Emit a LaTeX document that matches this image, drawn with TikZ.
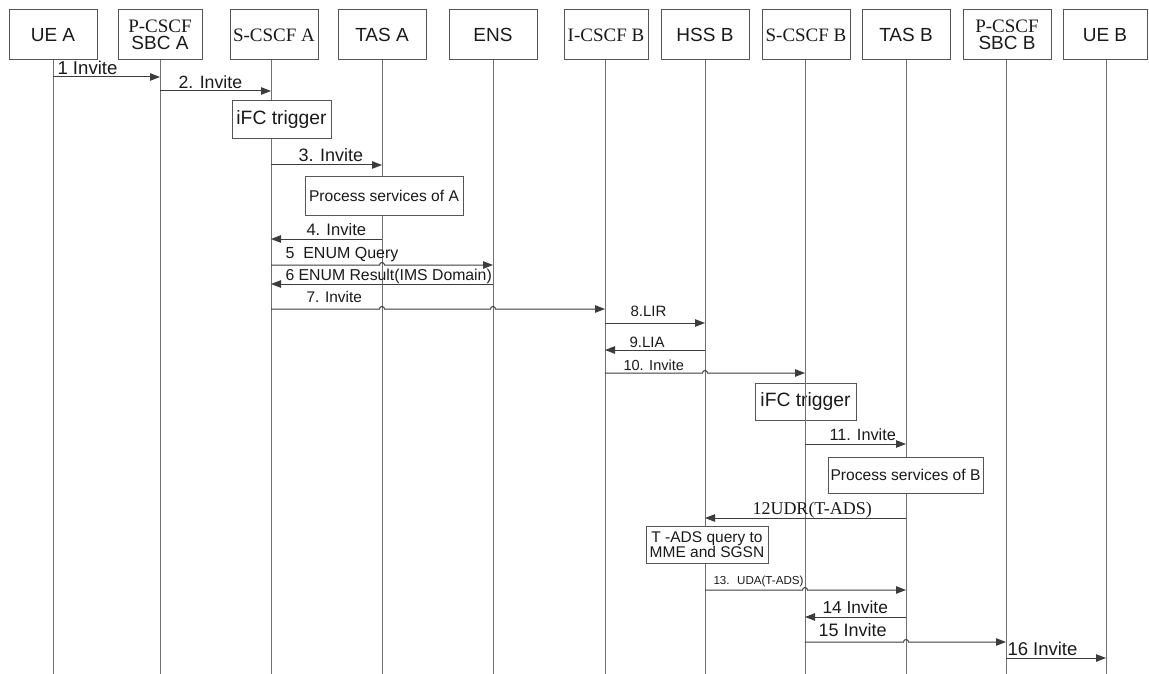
\documentclass[tikz,border=0pt]{standalone}
\usepackage{fontspec}
\setmainfont{Liberation Sans}
\newfontfamily\tmsfont{Liberation Serif}
\newfontfamily\lblfont{Liberation Sans}
\usetikzlibrary{arrows.meta}

\definecolor{boxgray}{HTML}{555555}
\definecolor{linegray}{HTML}{707070}
\definecolor{msggray}{HTML}{3C3C3C}
\definecolor{txtgray}{HTML}{1A1A1A}

\tikzset{
  entity/.style={draw=boxgray, line width=1pt, minimum width=88pt, minimum height=50pt,
    inner sep=1pt, align=center, text=txtgray, font=\fontsize{19}{19}\selectfont},
  life/.style={draw=linegray, line width=0.9pt},
  note/.style={draw=boxgray, line width=1pt, fill=white, inner sep=0pt, align=center,
    text=txtgray, font=\lblfont\fontsize{#1}{#1}\selectfont},
  note/.default=15.6,
  msg/.style={draw=msggray, line width=1pt, -{Triangle[length=10pt,width=7.5pt]}},
  lbl/.style={anchor=base west, inner sep=0pt, yshift=2.5pt, text=txtgray,
    font=\lblfont\fontsize{#1}{#1}\selectfont},
  lbl/.default=18,
  hop/.style={start angle=180, end angle=360, radius=2.5}
}

\begin{document}
\begin{tikzpicture}[x=1pt, y=-1pt]
\useasboundingbox (0,0) rectangle (1149,674);

% entities
\node[entity] (ueA) at (53,35) {UE A};
\node[entity, minimum width=84pt] (pA) at (160,35) {{\tmsfont P-CSCF}\\[-2pt]SBC A};
\node[entity] (sA) at (274,35) {\tmsfont S-CSCF A};
\node[entity] (tA) at (382,35) {TAS A};
\node[entity] (ens) at (493,35) {ENS};
\node[entity, minimum width=84pt] (iB) at (606,35) {\tmsfont I-CSCF B};
\node[entity] (hB) at (705,35) {HSS B};
\node[entity] (sB) at (806,35) {\tmsfont S-CSCF B};
\node[entity] (tB) at (906,35) {TAS B};
\node[entity] (pB) at (1007,35) {{\tmsfont P-CSCF}\\[-2pt]SBC B};
\node[entity, minimum width=84pt] (ueB) at (1105,35) {UE B};

% lifelines
\foreach \n/\x in {ueA/53, pA/160, sA/271, tA/382, ens/493, iB/605, hB/705, sB/805, tB/906, pB/1006, ueB/1106}
  \draw[life] (\n.south -| \x,0) -- (\x,674) coordinate (\n L);

% message heights
\foreach \n/\y in {1/77, 2/91, 3/165, 4/239, 5/265, 6/284, 7/309, 8/323, 9/350,
                   10/373, 11/444, 12/518, 13/590, 14/617, 15/642, 16/658}
  \coordinate (m\n) at (0,\y);

% boxes on the lifelines
\node[note=19.3, minimum width=99pt, minimum height=38pt] (trigA) at (281.5,120) {iFC trigger};
\node[note, minimum width=158pt, minimum height=38pt] (servA) at (384,196) {Process services of A};
\node[note=19.3, fill=none, minimum width=101pt, minimum height=37pt] (trigB) at (805.5,401.5) {iFC trigger};
\draw[life] (sBL |- trigB.north) -- (sBL |- trigB.south);
\node[note, minimum width=155pt, minimum height=36pt] (servB) at (905.5,475) {Process services of B};
\node[note, minimum width=122pt, minimum height=37pt, font=\lblfont\fontsize{15.5}{14}\selectfont]
  (tads) at (707,544.5) {T -ADS query to\\MME and SGSN};

% messages
\draw[msg] (ueAL |- m1) -- (pAL |- m1) node[lbl=18.6, pos=0, xshift=4pt] {1 Invite};
\draw[msg] (pAL |- m2) -- (sAL |- m2) node[lbl=17.7, pos=0, xshift=18pt] {2. Invite};
\draw[msg] (sAL |- m3) -- (tAL |- m3) node[lbl, pos=0, xshift=27pt, yshift=1.5pt] {3. Invite};
\draw[msg] (tAL |- m4) -- (sAL |- m4) node[lbl=16.6, pos=1, xshift=35pt, yshift=1.5pt] {4. Invite};
\draw[msg] (sAL |- m5) -- node[lbl=16, pos=0, xshift=14pt, yshift=4pt] {5~~ENUM Query}
  ([xshift=-2.5pt]tAL |- m5) arc[hop] -- (ensL |- m5);
\draw[msg] (ensL |- m6) -- (sAL |- m6) node[lbl=15.8, pos=1, xshift=14pt, yshift=1pt] {6 ENUM Result(IMS Domain)};
\draw[msg] (sAL |- m7) -- node[lbl=15.4, pos=0, xshift=35pt, yshift=4pt] {7. Invite}
  ([xshift=-2.5pt]tAL |- m7) arc[hop] -- ([xshift=-2.5pt]ensL |- m7) arc[hop] -- (iBL |- m7);
\draw[msg] (iBL |- m8) -- (hBL |- m8) node[lbl=15, pos=0, xshift=25pt, yshift=4.5pt] {8.LIR};
\draw[msg] (hBL |- m9) -- (iBL |- m9) node[lbl=15, pos=1, xshift=24pt] {9.LIA};
\draw[msg] (iBL |- m10) -- node[lbl=14.6, pos=0, xshift=18pt] {10. Invite}
  ([xshift=-2.5pt]hBL |- m10) arc[hop] -- (sBL |- m10);
\draw[msg] (sBL |- m11) -- (tBL |- m11) node[lbl=16.3, pos=0, xshift=24pt, yshift=1.5pt] {11. Invite};
\draw[msg] (tBL |- m12) -- (hBL |- m12)
  node[lbl, pos=1, xshift=47pt, yshift=1.5pt, font=\tmsfont\fontsize{18}{18}\selectfont] {12UDR(T-ADS)};
\draw[msg] (hBL |- m13) -- node[lbl=11.6, pos=0, xshift=8pt, yshift=3pt] {13.~ UDA(T-ADS)}
  ([xshift=-2.5pt]sBL |- m13) arc[hop] -- (tBL |- m13);
\draw[msg] (tBL |- m14) -- (sBL |- m14) node[lbl=17.3, pos=1, xshift=17pt, yshift=1.5pt] {14 Invite};
\draw[msg] (sBL |- m15) -- node[lbl, pos=0, xshift=13pt, yshift=3pt] {15 Invite}
  ([xshift=-2.5pt]tBL |- m15) arc[hop] -- (pBL |- m15);
\draw[msg] (pBL |- m16) -- (ueBL |- m16) node[lbl=18.5, pos=0, xshift=1pt] {16 Invite};
\end{tikzpicture}
\end{document}
